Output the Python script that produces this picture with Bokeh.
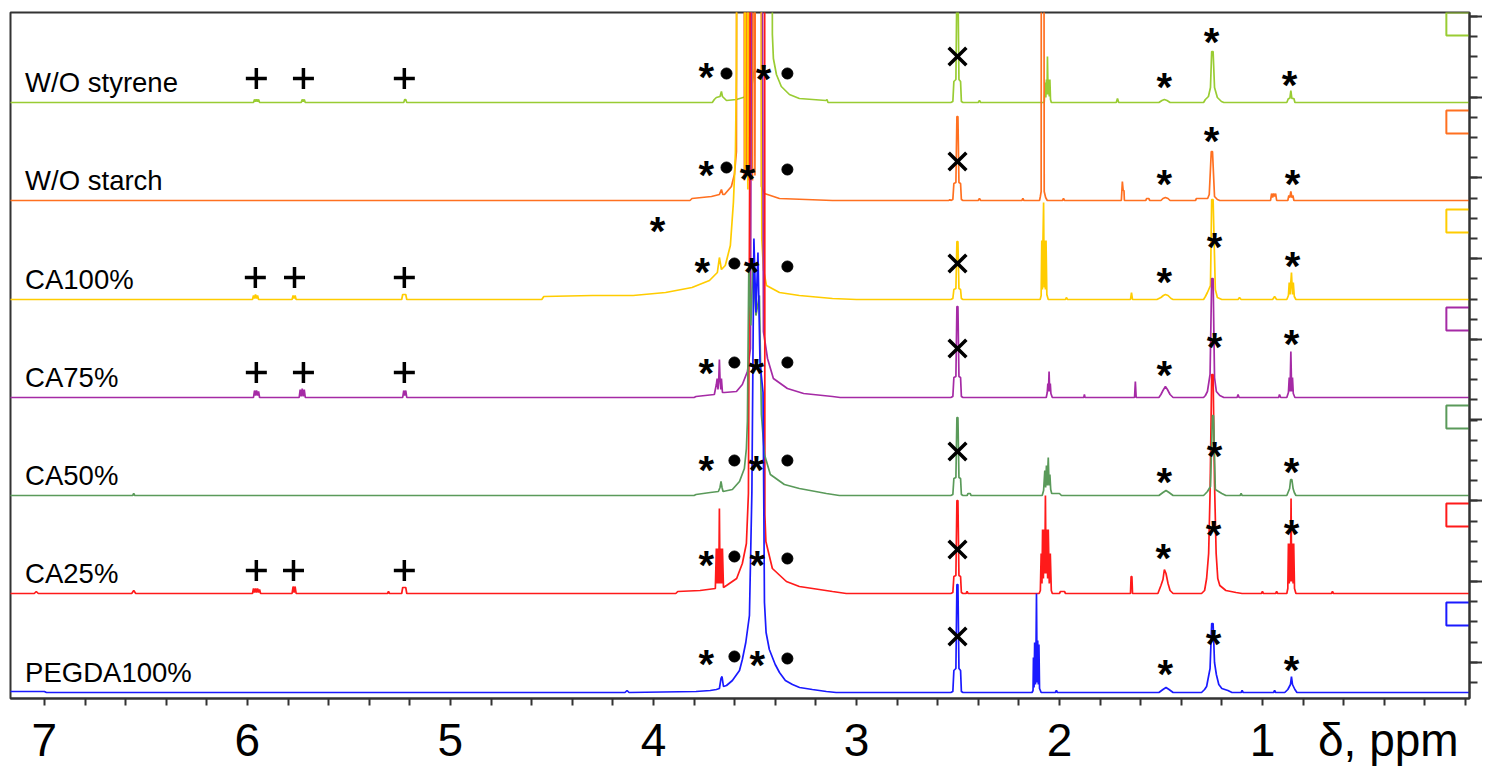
from bokeh.plotting import figure
from bokeh.models import Range1d, FixedTicker
from bokeh.core.properties import value
from bokeh.embed import file_html
from bokeh.resources import INLINE

FONT = "Liberation Sans"

# trace names, colours and baseline offsets (top to bottom)
names = ["W/O styrene", "W/O starch", "CA100%", "CA75%", "CA50%", "CA25%", "PEGDA100%"]
colors = ["#99CC33", "#FF7020", "#FFCC00", "#A52AA5", "#5A9A5A", "#FF1A1A", "#1A1AFF"]
baselines = [596, 498, 399, 301, 203, 105, 6]

# spectra as (ppm, intensity above own baseline)
styrene = [
    (7.17, 0), (5.97, 0), (5.965, 3), (5.96, 1), (5.955, 3), (5.95, 1), (5.945, 3), (5.94, 0),
    (5.735, 0), (5.73, 3), (5.725, 1), (5.72, 3), (5.715, 0),
    (5.23, 0), (5.225, 3), (5.22, 3), (5.215, 0),
    (3.71, 0), (3.70, 3), (3.69, 5), (3.672, 6), (3.665, 11), (3.66, 6), (3.65, 4), (3.64, 2),
    (3.591, 3), (3.542, 6), (3.517, 14), (3.502, 34), (3.493, 700), (3.42, 700), (3.414, 68),
    (3.409, 44), (3.394, 28), (3.37, 16), (3.33, 8), (3.281, 4), (3.15, 2), (3.145, 3), (3.14, 0),
    (2.535, 0), (2.525, 1), (2.52, 21), (2.51, 23), (2.505, 120), (2.50, 120), (2.495, 23),
    (2.487, 21), (2.483, 1), (2.475, 0), (2.40, 0), (2.394, 2), (2.388, 0),
    (2.075, 0), (2.07, 20), (2.067, 5), (2.064, 23), (2.061, 8), (2.059, 46), (2.056, 8),
    (2.053, 23), (2.05, 6), (2.047, 23), (2.044, 3), (2.04, 0),
    (1.72, 0), (1.714, 4), (1.708, 0),
    (1.51, 0), (1.495, 2), (1.483, 3), (1.47, 2), (1.455, 0),
    (1.29, 0), (1.281, 3), (1.266, 6), (1.256, 15), (1.25, 51), (1.243, 51), (1.236, 15),
    (1.222, 5), (1.202, 1), (1.19, 0),
    (0.88, 0), (0.872, 4), (0.865, 4), (0.86, 12), (0.855, 4), (0.845, 4), (0.84, 0),
    (-0.03, 0),
]

starch = [
    (7.17, 0), (3.82, 0), (3.81, 2), (3.714, 4), (3.675, 6), (3.665, 11), (3.658, 6), (3.65, 6),
    (3.616, 14), (3.601, 26), (3.591, 49), (3.588, 700),
    (3.555, 700), (3.552, 20), (3.548, 700), (3.543, 25), (3.538, 700), (3.533, 20), (3.528, 700),
    (3.522, 25), (3.517, 700), (3.512, 20), (3.507, 700), (3.50, 25), (3.495, 700),
    (3.47, 700), (3.468, 14), (3.453, 7), (3.379, 2), (3.118, 0),
    (2.545, 0), (2.54, 1), (2.535, 0), (2.525, 1), (2.52, 17), (2.51, 18), (2.505, 84), (2.50, 84),
    (2.495, 18), (2.487, 17), (2.483, 1), (2.475, 0),
    (2.40, 0), (2.394, 2), (2.388, 0), (2.185, 0), (2.18, 2), (2.175, 0),
    (2.098, 0), (2.094, 4), (2.09, 9), (2.088, 700), (2.085, 200), (2.083, 700), (2.08, 200),
    (2.078, 700), (2.075, 9), (2.068, 3), (2.06, 0),
    (1.985, 0), (1.98, 2), (1.975, 0),
    (1.695, 0), (1.69, 19), (1.686, 10), (1.682, 10), (1.68, 0),
    (1.575, 0), (1.57, 2), (1.56, 2), (1.555, 0),
    (1.50, 0), (1.49, 2), (1.478, 3), (1.465, 2), (1.455, 0),
    (1.33, 0), (1.325, 2), (1.27, 2), (1.262, 6), (1.252, 49), (1.246, 49), (1.236, 4),
    (1.222, 1), (1.21, 0),
    (0.96, 0), (0.955, 7), (0.95, 3), (0.945, 7), (0.94, 4), (0.935, 7), (0.93, 0),
    (0.875, 0), (0.87, 5), (0.865, 3), (0.86, 9), (0.855, 3), (0.85, 5), (0.845, 0),
    (-0.03, 0),
]

ca100 = [
    (7.17, 0), (5.975, 0), (5.97, 4), (5.965, 1), (5.96, 5), (5.955, 1), (5.95, 4), (5.945, 0),
    (5.78, 0), (5.775, 4), (5.77, 1), (5.765, 4), (5.76, 0),
    (5.24, 0), (5.235, 5), (5.22, 5), (5.215, 0),
    (4.55, 0), (4.54, 3), (4.30, 4), (4.10, 4), (3.94, 7), (3.81, 12), (3.724, 19), (3.685, 27),
    (3.675, 42), (3.665, 30), (3.646, 34), (3.621, 54), (3.606, 97), (3.596, 147), (3.591, 230),
    (3.585, 700), (3.552, 700), (3.549, 130), (3.545, 700), (3.538, 700), (3.535, 110), (3.531, 700),
    (3.47, 700), (3.466, 60), (3.458, 30), (3.443, 14), (3.379, 7), (3.281, 4), (3.118, 1), (3.0, 0),
    (2.535, 0), (2.525, 1), (2.52, 10), (2.51, 11), (2.505, 58), (2.50, 58), (2.495, 11),
    (2.487, 10), (2.483, 1), (2.475, 0),
    (2.095, 0), (2.09, 4), (2.087, 59), (2.084, 10), (2.081, 59), (2.078, 97), (2.075, 12),
    (2.072, 59), (2.069, 10), (2.066, 59), (2.062, 5), (2.055, 0),
    (1.97, 0), (1.966, 2), (1.96, 0),
    (1.65, 0), (1.645, 7), (1.64, 0),
    (1.52, 0), (1.50, 2), (1.488, 4), (1.478, 5), (1.465, 4), (1.45, 1), (1.44, 0),
    (1.29, 0), (1.281, 3), (1.271, 7), (1.256, 14), (1.25, 100), (1.243, 100), (1.232, 10),
    (1.222, 2), (1.20, 0),
    (1.12, 0), (1.113, 2), (1.105, 0), (0.95, 0), (0.94, 3), (0.93, 0),
    (0.88, 0), (0.872, 4), (0.868, 17), (0.864, 5), (0.857, 27), (0.852, 5), (0.848, 17),
    (0.843, 3), (0.835, 0),
    (-0.03, 0),
]

ca75 = [
    (7.17, 0), (5.97, 0), (5.965, 7), (5.96, 2), (5.955, 7), (5.95, 2), (5.945, 6), (5.94, 0),
    (5.745, 0), (5.74, 8), (5.735, 1), (5.73, 9), (5.725, 1), (5.72, 8), (5.715, 0),
    (5.235, 0), (5.23, 7), (5.225, 2), (5.22, 7), (5.215, 0),
    (3.80, 0), (3.79, 1), (3.70, 3), (3.69, 13), (3.686, 19), (3.682, 8), (3.678, 19), (3.675, 38),
    (3.672, 19), (3.668, 8), (3.665, 19), (3.66, 5), (3.65, 5), (3.591, 6), (3.562, 13),
    (3.537, 26), (3.522, 49), (3.517, 420), (3.463, 420), (3.458, 66), (3.438, 39), (3.409, 19),
    (3.34, 9), (3.26, 4), (3.118, 1), (3.08, 0),
    (2.535, 0), (2.525, 1), (2.52, 20), (2.51, 21), (2.505, 91), (2.50, 91), (2.495, 21),
    (2.487, 20), (2.483, 1), (2.475, 0),
    (2.065, 0), (2.06, 5), (2.057, 14), (2.054, 6), (2.051, 26), (2.048, 6), (2.045, 14),
    (2.042, 4), (2.035, 0),
    (1.88, 0), (1.877, 3), (1.874, 0), (1.63, 0), (1.626, 16), (1.622, 0),
    (1.51, 0), (1.50, 3), (1.49, 7), (1.478, 11), (1.468, 8), (1.455, 3), (1.44, 0),
    (1.29, 0), (1.281, 2), (1.271, 6), (1.258, 23), (1.25, 119), (1.243, 119), (1.236, 20),
    (1.227, 6), (1.21, 2), (1.19, 0),
    (1.125, 0), (1.12, 3), (1.115, 0), (0.92, 0), (0.916, 3), (0.91, 0),
    (0.88, 0), (0.872, 5), (0.868, 20), (0.864, 6), (0.86, 46), (0.856, 6), (0.852, 20),
    (0.848, 4), (0.84, 0),
    (-0.03, 0),
]

ca50 = [
    (7.17, 0), (6.565, 0), (6.56, 2), (6.555, 0),
    (3.80, 0), (3.79, 1), (3.72, 3), (3.68, 4), (3.672, 8), (3.667, 14), (3.662, 8), (3.657, 4),
    (3.611, 6), (3.576, 14), (3.552, 27), (3.542, 47), (3.537, 74), (3.53, 230), (3.52, 170),
    (3.51, 230), (3.495, 180), (3.478, 200), (3.468, 81), (3.453, 41), (3.424, 21), (3.355, 11),
    (3.281, 7), (3.148, 2), (3.084, 0),
    (2.535, 0), (2.525, 1), (2.52, 17), (2.51, 18), (2.505, 78), (2.50, 78), (2.495, 18),
    (2.487, 17), (2.483, 1), (2.475, 0), (2.455, 0), (2.45, 2), (2.44, 2), (2.435, 0),
    (2.085, 0), (2.078, 5), (2.072, 25), (2.068, 8), (2.064, 30), (2.06, 10), (2.055, 38),
    (2.051, 10), (2.047, 21), (2.043, 6), (2.038, 2), (2.0, 2), (1.99, 0),
    (1.51, 0), (1.49, 3), (1.475, 5), (1.46, 3), (1.44, 0),
    (1.29, 0), (1.28, 2), (1.271, 4), (1.256, 9), (1.246, 80), (1.241, 80), (1.232, 6),
    (1.20, 2), (1.18, 0), (1.11, 0), (1.105, 2), (1.10, 0),
    (0.88, 0), (0.872, 4), (0.866, 7), (0.861, 16), (0.855, 16), (0.849, 7), (0.843, 3), (0.835, 0),
    (-0.03, 0),
]

ca25 = [
    (7.17, 0), (7.05, 0), (7.04, 2), (7.03, 0), (6.57, 0), (6.56, 3), (6.55, 0),
    (5.975, 0), (5.97, 5), (5.965, 1), (5.96, 5), (5.955, 1), (5.95, 5), (5.945, 1), (5.94, 4), (5.935, 0),
    (5.78, 0), (5.775, 7), (5.77, 1), (5.765, 7), (5.76, 0),
    (5.31, 0), (5.305, 2), (5.30, 0),
    (5.24, 0), (5.235, 6), (5.23, 6), (5.225, 6), (5.22, 6), (5.215, 0),
    (3.89, 0), (3.88, 2), (3.77, 3), (3.695, 5), (3.69, 45), (3.686, 10), (3.682, 45), (3.678, 10),
    (3.675, 85), (3.672, 10), (3.668, 45), (3.664, 10), (3.66, 45), (3.655, 6), (3.64, 8),
    (3.59, 15), (3.562, 30), (3.542, 50), (3.532, 100), (3.522, 620), (3.452, 620), (3.451, 79),
    (3.446, 52), (3.414, 25), (3.345, 12), (3.281, 7), (3.118, 2), (3.05, 0),
    (2.535, 0), (2.525, 1), (2.52, 17), (2.51, 18), (2.505, 93), (2.50, 93), (2.495, 18),
    (2.487, 17), (2.483, 1), (2.475, 0), (2.46, 0), (2.455, 2), (2.45, 0),
    (2.10, 0), (2.094, 3), (2.09, 40), (2.086, 10), (2.083, 64), (2.079, 15), (2.076, 64),
    (2.072, 20), (2.069, 98), (2.066, 20), (2.062, 64), (2.058, 15), (2.055, 64), (2.05, 10),
    (2.045, 40), (2.04, 3), (2.035, 0), (2.0, 0), (1.995, 2), (1.975, 2), (1.97, 0),
    (1.65, 0), (1.647, 17), (1.643, 17), (1.64, 0),
    (1.515, 0), (1.50, 8), (1.49, 14), (1.483, 24), (1.475, 20), (1.465, 10), (1.455, 3), (1.44, 0),
    (1.30, 0), (1.285, 3), (1.275, 15), (1.265, 40), (1.258, 100), (1.25, 219), (1.243, 219),
    (1.236, 110), (1.228, 40), (1.22, 15), (1.21, 8), (1.18, 3), (1.13, 1), (1.10, 0),
    (1.005, 0), (1.0, 2), (0.995, 0), (0.935, 0), (0.93, 2), (0.925, 0),
    (0.88, 0), (0.875, 5), (0.872, 50), (0.868, 10), (0.865, 50), (0.862, 12), (0.859, 95),
    (0.856, 12), (0.853, 50), (0.849, 10), (0.846, 50), (0.842, 5), (0.835, 0),
    (0.66, 0), (0.655, 2), (0.65, 0),
    (-0.03, 0),
]

pegda = [
    (7.17, 1), (7.00, 1), (6.99, 0), (4.14, 0), (4.13, 2), (4.12, 0),
    (3.79, 1), (3.72, 2), (3.69, 3), (3.675, 4), (3.667, 14), (3.662, 16), (3.655, 6), (3.64, 7),
    (3.611, 12), (3.576, 22), (3.562, 33), (3.545, 50), (3.527, 77), (3.515, 200), (3.505, 454),
    (3.495, 380), (3.485, 440), (3.475, 330), (3.46, 300), (3.453, 90), (3.445, 60), (3.429, 43),
    (3.40, 28), (3.379, 20), (3.35, 12), (3.315, 8), (3.28, 5), (3.217, 3), (3.148, 1), (3.10, 0),
    (2.535, 0), (2.525, 1), (2.52, 22), (2.51, 24), (2.505, 108), (2.50, 108), (2.495, 24),
    (2.487, 22), (2.483, 1), (2.475, 0),
    (2.135, 0), (2.13, 2), (2.128, 35), (2.125, 5), (2.122, 50), (2.118, 8), (2.115, 52),
    (2.113, 99), (2.11, 10), (2.107, 52), (2.104, 8), (2.101, 48), (2.098, 4), (2.094, 2), (2.09, 0),
    (2.02, 0), (2.015, 2), (2.01, 0),
    (1.51, 0), (1.49, 3), (1.475, 5), (1.46, 3), (1.44, 0),
    (1.30, 0), (1.285, 3), (1.275, 6), (1.258, 24), (1.25, 69), (1.243, 69), (1.236, 30),
    (1.227, 18), (1.215, 8), (1.20, 4), (1.17, 2), (1.15, 0),
    (1.105, 0), (1.10, 2), (1.095, 0), (0.945, 0), (0.94, 2), (0.935, 0),
    (0.89, 0), (0.875, 3), (0.862, 8), (0.857, 16), (0.852, 8), (0.84, 3), (0.83, 0),
    (-0.03, 0),
]

spectra = [styrene, starch, ca100, ca75, ca50, ca25, pegda]
draw_order = [0, 1, 2, 3, 5, 4, 6]

# peak annotations
plus_x = [5.956, 5.724, 5.227, 5.961, 5.768, 5.227, 5.956, 5.724, 5.227, 5.956, 5.773, 5.227]
plus_y = [620, 620, 620, 421, 421, 421, 326, 326, 326, 128, 128, 128]

cross_x = [2.502, 2.502, 2.502, 2.502, 2.502, 2.502, 2.502]
cross_y = [642, 537, 435, 350, 247, 149, 62]

dot_x = [3.640, 3.340, 3.640, 3.340, 3.601, 3.340, 3.601, 3.340, 3.601, 3.340, 3.601, 3.340, 3.601, 3.340]
dot_y = [625, 625, 531, 529, 435, 432, 336, 336, 238, 238, 142, 140, 42, 40]

star_x = [3.739, 3.458, 1.483, 1.251, 0.867,
          3.739, 3.537, 1.483, 1.251, 0.852,
          3.980, 3.759, 3.517, 1.483, 1.236, 0.852,
          3.739, 3.493, 1.483, 1.236, 0.857,
          3.739, 3.493, 1.483, 1.236, 0.857,
          3.739, 3.488, 1.488, 1.241, 0.857,
          3.739, 3.488, 1.478, 1.241, 0.857]
star_y = [627, 625, 617, 662, 619,
          529, 525, 520, 563, 520,
          473, 432, 432, 422, 457, 438,
          331, 331, 329, 357, 360,
          234, 234, 222, 248, 232,
          139, 139, 146, 169, 170,
          40, 39, 30, 60, 34]

# axes
x_labels = [7, 6, 5, 4, 3, 2, 1]
unit_pos = 0.38
unit_text = "δ, ppm"
x_minor = [round(0.2 * i, 1) for i in range(36)]
y_major = [682, 601, 521, 440, 359, 279, 198, 117, 36]
y_minor = [682 - 20.18 * i for i in range(34)]

p = figure(frame_width=1459, frame_height=686, x_range=Range1d(7.167, -0.02), y_range=Range1d(0, 686),
           y_axis_location="right", output_backend="svg", toolbar_location=None,
           min_border_left=10, min_border_top=12, min_border_right=0, min_border_bottom=0)
p.xgrid.visible = False
p.ygrid.visible = False
p.outline_line_color = "#333333"
p.outline_line_width = 2

for i in draw_order:
    xs = [pt[0] for pt in spectra[i]]
    ys = [baselines[i] + pt[1] for pt in spectra[i]]
    p.line(xs, ys, line_color=colors[i], line_width=1.7)

# little open boxes against the right axis
box_l, box_r = 0.094, -0.03
p.multi_line(xs=[[box_r, box_l, box_l, box_r] for b in baselines],
             ys=[[b + 90, b + 90, b + 67, b + 67] for b in baselines],
             line_color=colors, line_width=2)

p.text(x=[7.095] * len(names), y=[b + 20 for b in baselines], text=names,
       text_font=value(FONT), text_font_size="27.5px", text_color="black",
       text_align="left", text_baseline="alphabetic")

p.scatter(plus_x, plus_y, marker="cross", size=21, line_width=3.5, line_color="black")
p.scatter(cross_x, cross_y, marker="x", size=25, line_width=3.5, line_color="black")
p.scatter(dot_x, dot_y, marker="circle", size=11, fill_color="black", line_color="black")
p.text(x=star_x, y=star_y, text=["*"] * len(star_x), text_font=value(FONT),
       text_font_size="40px", text_font_style="bold", text_color="black", text_align="center",
       text_baseline="alphabetic", y_offset=5)

ax = p.xaxis[0]
ax.ticker = FixedTicker(ticks=x_labels + [unit_pos], minor_ticks=x_minor)
ax.major_label_overrides = {**{v: str(v) for v in x_labels}, unit_pos: unit_text}
ax.major_tick_out = 0
ax.major_tick_in = 0
ax.minor_tick_out = 7
ax.minor_tick_in = 0
ax.minor_tick_line_width = 2
ax.minor_tick_line_color = "#333333"
ax.axis_line_width = 2
ax.axis_line_color = "#333333"
ax.major_label_standoff = 8
ax.major_label_text_font = FONT
ax.major_label_text_font_size = "46px"
ax.major_label_text_color = "black"

ay = p.yaxis[0]
ay.ticker = FixedTicker(ticks=y_major, minor_ticks=y_minor)
ay.major_tick_out = 13
ay.major_tick_in = 0
ay.minor_tick_out = 8
ay.minor_tick_in = 0
ay.major_tick_line_width = 2
ay.minor_tick_line_width = 2
ay.major_tick_line_color = "#333333"
ay.minor_tick_line_color = "#333333"
ay.axis_line_width = 2
ay.axis_line_color = "#333333"
ay.major_label_text_font_size = "1px"
ay.major_label_text_color = None
ay.major_label_standoff = 0

open("out.html", "w").write(file_html(p, INLINE))
